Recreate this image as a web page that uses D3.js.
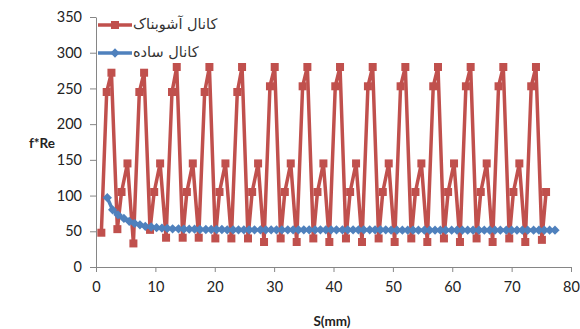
<!DOCTYPE html>
<html>
<head>
<meta charset="utf-8">
<script src="https://cdn.jsdelivr.net/npm/d3@7"></script>
<style>
  html, body { margin: 0; padding: 0; background: #fff; }
  svg { display: block; }
  .tick text { font-family: Lato, "Liberation Sans", sans-serif; font-size: 14.5px; fill: #222; }
</style>
</head>
<body>
<svg id="chart" width="580" height="329"></svg>
<script>
// Axis ticks
const xTicks = [0, 10, 20, 30, 40, 50, 60, 70, 80];
const yTicks = [0, 50, 100, 150, 200, 250, 300, 350];

// Series names
const seriesNames = ["کانال آشوبناک", "کانال ساده"];

// Turbulated channel: position along channel (mm) and f*Re
const turbS = [
  0.9,
  1.8, 2.6, 3.6, 4.3, 5.3, 6.3,
  7.3, 8.1, 9.1, 9.8, 10.8, 11.8,
  12.8, 13.6, 14.6, 15.3, 16.3, 17.3,
  18.3, 19.1, 20.1, 20.8, 21.8, 22.8,
  23.8, 24.6, 25.6, 26.3, 27.3, 28.3,
  29.3, 30.1, 31.1, 31.8, 32.8, 33.8,
  34.8, 35.6, 36.6, 37.3, 38.3, 39.3,
  40.3, 41.1, 42.1, 42.8, 43.8, 44.8,
  45.8, 46.6, 47.6, 48.3, 49.3, 50.3,
  51.3, 52.1, 53.1, 53.8, 54.8, 55.8,
  56.8, 57.6, 58.6, 59.3, 60.3, 61.3,
  62.3, 63.1, 64.1, 64.8, 65.8, 66.8,
  67.8, 68.6, 69.6, 70.3, 71.3, 72.3,
  73.3, 74.1, 75.1, 75.8
];
const turbFRe = [
  48,
  245, 272, 53, 105, 145, 33,
  245, 272, 52, 105, 145, 41,
  245, 280, 41, 105, 145, 41,
  245, 280, 40, 105, 145, 40,
  245, 280, 40, 105, 145, 35,
  253, 280, 40, 105, 145, 35,
  253, 280, 40, 105, 145, 35,
  253, 280, 40, 105, 145, 35,
  253, 280, 40, 105, 145, 35,
  253, 280, 40, 105, 145, 35,
  253, 280, 40, 105, 145, 35,
  253, 280, 40, 105, 145, 35,
  253, 280, 40, 105, 145, 35,
  253, 280, 38, 105
];

// Plain channel: position along channel (mm) and f*Re
const plainS = [
  1.9, 2.8, 3.7, 4.7, 5.6, 6.5, 7.4, 8.3, 9.3, 10.2,
  11.1, 12.0, 12.9, 13.9, 14.8, 15.7, 16.6, 17.5, 18.5, 19.4,
  20.3, 21.2, 22.1, 23.1, 24.0, 24.9, 25.8, 26.7, 27.7, 28.6,
  29.5, 30.4, 31.3, 32.3, 33.2, 34.1, 35.0, 35.9, 36.9, 37.8,
  38.7, 39.6, 40.5, 41.5, 42.4, 43.3, 44.2, 45.1, 46.1, 47.0,
  47.9, 48.8, 49.7, 50.7, 51.6, 52.5, 53.4, 54.3, 55.3, 56.2,
  57.1, 58.0, 58.9, 59.9, 60.8, 61.7, 62.6, 63.5, 64.5, 65.4,
  66.3, 67.2, 68.1, 69.1, 70.0, 70.9, 71.8, 72.7, 73.7, 74.6,
  75.5, 76.4, 77.3
];
const plainFRe = [
  97, 80, 73, 68, 64, 61, 59, 57, 56, 55,
  54.5, 54, 53.5, 53.5, 53, 53, 53, 52.5, 52.5, 52.5,
  52.5, 52.5, 52, 52, 52, 52, 52, 52, 52, 52,
  52, 52, 52, 52, 52, 52, 52, 52, 52, 52,
  52, 52, 52, 52, 52, 52, 52, 52, 52, 52,
  52, 52, 51.5, 51.5, 51.5, 51.5, 51.5, 51.5, 51.5, 51.5,
  51.5, 51.5, 51.5, 51.5, 51.5, 51.5, 51.5, 51.5, 51.5, 51.5,
  51.5, 51.5, 51.5, 51.5, 51.5, 51.5, 51.5, 51.5, 51.5, 51.5,
  51.5, 51.5, 51.5
];

const RED = "#C0504D";
const BLUE = "#4F81BD";
const AXIS = "#868686";

const svg = d3.select("#chart");
const margin = { left: 96, right: 9, top: 17, bottom: 62 };
const W = 580, H = 329;

const x = d3.scaleLinear().domain([0, 80]).range([margin.left, W - margin.right]);
const y = d3.scaleLinear().domain([0, 350]).range([H - margin.bottom, margin.top]);

// Axes
const xAxis = svg.append("g")
  .attr("transform", `translate(0,${y(0)})`)
  .call(d3.axisBottom(x).tickValues(xTicks).tickSize(5).tickPadding(10).tickSizeOuter(0));
const yAxis = svg.append("g")
  .attr("transform", `translate(${x(0)},0)`)
  .call(d3.axisLeft(y).tickValues(yTicks).tickSize(6).tickPadding(8).tickSizeOuter(0));
[xAxis, yAxis].forEach(g => {
  g.select(".domain").attr("stroke", AXIS).attr("stroke-width", 1);
  g.selectAll(".tick line").attr("stroke", AXIS);
});

// Axis titles
svg.append("text")
  .attr("x", x(0) - 54).attr("y", 148)
  .attr("text-anchor", "middle")
  .style("font-family", "Lato, 'Liberation Sans', sans-serif")
  .style("font-size", "13.5px").style("font-weight", "bold").attr("fill", "#222")
  .text("f*Re");
svg.append("text")
  .attr("x", 332).attr("y", 326)
  .attr("text-anchor", "middle")
  .style("font-family", "Lato, 'Liberation Sans', sans-serif")
  .style("font-size", "13.5px").style("font-weight", "bold").attr("fill", "#222")
  .text("S(mm)");

const turb = turbS.map((s, i) => ({ s, v: turbFRe[i] }));
const plain = plainS.map((s, i) => ({ s, v: plainFRe[i] }));

const line = d3.line().x(d => x(d.s)).y(d => y(d.v));

// Turbulated channel series
svg.append("path").datum(turb)
  .attr("fill", "none").attr("stroke", RED).attr("stroke-width", 3.5)
  .attr("stroke-linejoin", "round").attr("d", line);
const sq = 8;
svg.append("g").selectAll("rect").data(turb).join("rect")
  .attr("x", d => x(d.s) - sq / 2).attr("y", d => y(d.v) - sq / 2)
  .attr("width", sq).attr("height", sq).attr("fill", RED);

// Plain channel series
svg.append("path").datum(plain)
  .attr("fill", "none").attr("stroke", BLUE).attr("stroke-width", 3.5)
  .attr("stroke-linejoin", "round").attr("d", line);
const diamond = d3.symbol().type(d3.symbolDiamond2).size(55);
svg.append("g").selectAll("path").data(plain).join("path")
  .attr("transform", d => `translate(${x(d.s)},${y(d.v)})`)
  .attr("d", diamond).attr("fill", BLUE);

// Legend
const legend = svg.append("g");
const legendRows = [
  { name: seriesNames[0], color: RED, mark: "square", yy: 25 },
  { name: seriesNames[1], color: BLUE, mark: "diamond", yy: 53 }
];
legendRows.forEach(r => {
  legend.append("line")
    .attr("x1", 98).attr("x2", 132).attr("y1", r.yy).attr("y2", r.yy)
    .attr("stroke", r.color).attr("stroke-width", 3.5);
  if (r.mark === "square") {
    legend.append("rect").attr("x", 115 - sq / 2).attr("y", r.yy - sq / 2)
      .attr("width", sq).attr("height", sq).attr("fill", r.color);
  } else {
    legend.append("path").attr("transform", `translate(115,${r.yy})`)
      .attr("d", diamond).attr("fill", r.color);
  }
  legend.append("text")
    .attr("x", 133).attr("y", r.yy + 4)
    .style("font-family", "'DejaVu Sans', sans-serif")
    .style("font-size", "14.5px").attr("fill", "#333")
    .text(r.name);
});
</script>
</body>
</html>
